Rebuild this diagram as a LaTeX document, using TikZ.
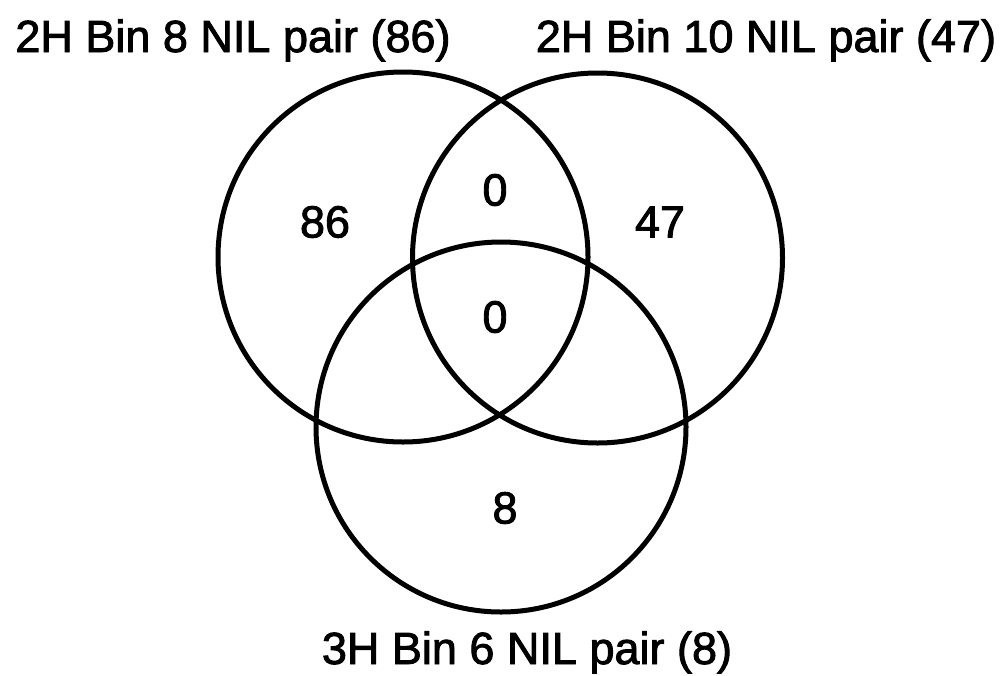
\documentclass[tikz,border=0pt]{standalone}
\usepackage{fontspec}
\setmainfont{Liberation Sans}
\newfontfamily\heavysans[FakeBold=2]{Liberation Sans}
\begin{document}
\begin{tikzpicture}[x=1pt,y=-1pt,
  set/.style={draw=black,line width=5pt,circle,minimum size=370pt,inner sep=0pt},
  lbl/.style={font=\heavysans\fontsize{45}{50}\selectfont,inner sep=0pt},
  num/.style={font=\heavysans\fontsize{45}{50}\selectfont,inner sep=0pt}]
\useasboundingbox[fill=white] (0,0) rectangle (1008,675);
\node[set] (A) at (403,257) {};
\node[set] (B) at (597.5,258) {};
\node[set] (C) at (501,427) {};
\node[lbl,anchor=base] (la) at (233,52) {2H Bin 8 NIL pair (86)};
\node[lbl,anchor=base] (lb) at (766,52) {2H Bin 10 NIL pair (47)};
\node[lbl,anchor=base] (lc) at (527,664) {3H Bin 6 NIL pair (8)};
\node[num] (n1) at (325,222) {86};
\node[num] (n2) at (495,190) {0};
\node[num] (n3) at (660,222) {47};
\node[num] (n4) at (495,317) {0};
\node[num] (n5) at (505,508) {8};
\end{tikzpicture}
\end{document}
